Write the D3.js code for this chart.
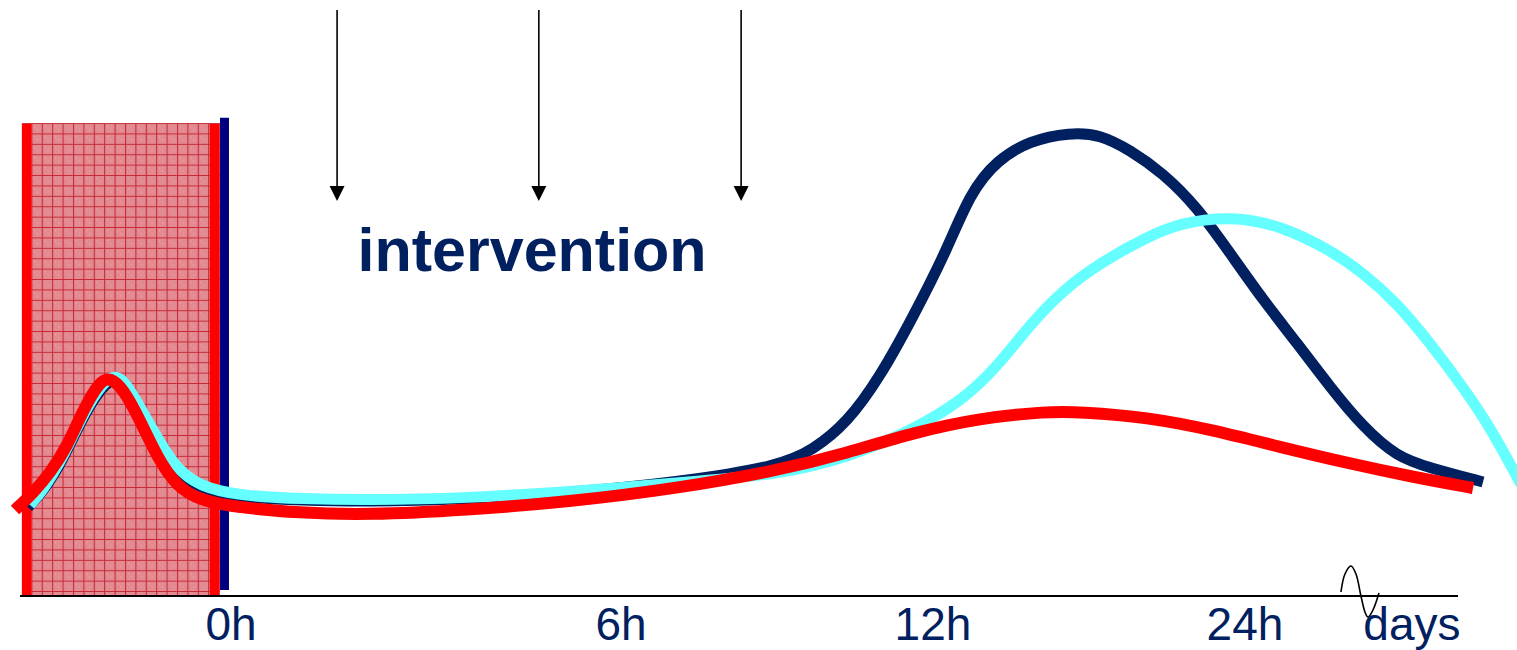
<!DOCTYPE html>
<html>
<head>
<meta charset="utf-8">
<script src="https://cdn.jsdelivr.net/npm/d3@7"></script>
<style>
  html, body { margin: 0; padding: 0; background: #fff; }
  svg { display: block; }
</style>
</head>
<body>
<svg id="chart" width="1517" height="650"></svg>
<script>
// ---------- DATA ----------
// x in "time position" units (0 = 0h), y in arbitrary response units (0 = axis)
const tickLabels = ["0h", "6h", "12h", "24h", "days"];
const tickPositions = [0, 7.5, 13.5, 19.5, 22.71];
const tickBaselineOffsets = [44, 44, 44, 44, 44];

const interventionTimes = [2.04, 5.92, 9.81];
const interventionLabel = "intervention";

const shadedStart = -4.02;
const shadedEnd = -0.21;
const redMarkers = [-3.93, -0.317];
const navyMarker = -0.125;
const axisBreakAt = 21.73;

const navySeries = [
  [-3.904, 18.82], [-3.615, 22.20], [-3.288, 27.70], [-2.962, 35.31], [-2.654, 41.65],
  [-2.327, 46.2], [-2.077, 45.6], [-1.75, 39.32], [-1.404, 31.71], [-1.019, 25.37],
  [-0.5, 22.41], [0.365, 20.72], [1.327, 20.30], [2.615, 19.96], [4.538, 20.51],
  [6.462, 21.78], [8.635, 24.15], [10.558, 27.54], [11.192, 30.93], [11.846, 36.65],
  [12.481, 46.40], [13.115, 59.11], [13.769, 73.31], [14.212, 85.38], [14.731, 92.37],
  [15.365, 96.5], [16.135, 98.2], [16.712, 97.8], [17.288, 94.49], [17.923, 89.62],
  [18.577, 82.42], [19.212, 72.67], [19.846, 62.71], [20.5, 53.60], [21.135, 44.28],
  [21.769, 35.81], [22.423, 29.45], [23.058, 27.12], [24.077, 24.15]
];

const cyanSeries = [
  [-3.865, 19.28], [-3.615, 22.46], [-3.288, 28.18], [-2.962, 35.81], [-2.654, 42.16],
  [-2.327, 46.8], [-2.077, 46.2], [-1.75, 40.04], [-1.365, 32.42], [-0.981, 26.06],
  [-0.462, 22.6], [0.365, 21.1], [1.327, 20.6], [2.615, 20.3], [4.538, 20.76],
  [6.462, 22.03], [9.02, 24.36], [10.558, 25.85], [11.846, 29.24], [13.115, 35.17],
  [14.077, 41.53], [14.731, 48.52], [15.365, 57.5], [16.0, 64.83], [16.712, 70.55],
  [17.615, 76.06], [18.25, 79.03], [19.212, 80.5], [20.173, 78.6], [21.135, 73.31],
  [21.769, 68.5], [22.423, 62.08], [23.058, 53.60], [23.692, 44.28], [24.212, 35.81],
  [24.731, 25.21], [24.98, 20.34]
];

const redSeries = [
  [-4.154, 18.22], [-3.808, 21.82], [-3.481, 26.06], [-3.154, 31.57], [-2.846, 39.41],
  [-2.519, 45.6], [-2.327, 46.3], [-2.077, 44.0], [-1.75, 37.29], [-1.423, 29.45],
  [-1.038, 23.09], [-0.596, 20.34], [0.038, 18.86], [1.327, 17.58], [2.615, 17.16],
  [4.538, 18.22], [6.462, 19.92], [8.635, 22.88], [10.558, 26.69], [11.846, 30.30],
  [13.115, 34.6], [14.404, 37.71], [15.692, 39.1], [16.327, 39.0], [17.615, 37.9],
  [18.885, 35.17], [20.173, 31.57], [21.462, 28.18], [22.731, 25.21], [23.885, 22.88]
];

// ---------- SCALES ----------
const svg = d3.select("#chart");
const x = d3.scaleLinear().domain([-4.4423, 24.7308]).range([0, 1517]);
const y = d3.scaleLinear().domain([0, 100]).range([596, 124]);

const textColor = "#002060";

// ---------- SHADED BOX ----------
const defs = svg.append("defs");
const pat = defs.append("pattern")
  .attr("id", "grid").attr("patternUnits", "userSpaceOnUse")
  .attr("x", x(shadedStart) - 1).attr("y", y(100.2))
  .attr("width", 10.4).attr("height", 10.4);
pat.append("rect").attr("width", 10.4).attr("height", 10.4).attr("fill", "#E38990");
pat.append("rect").attr("x", 3).attr("y", 3).attr("width", 1).attr("height", 1).attr("fill", "#F0B0B4");
pat.append("rect").attr("x", 6).attr("y", 6).attr("width", 1).attr("height", 1).attr("fill", "#F0B0B4");
pat.append("path").attr("d", "M0,0.5H10.4M0.5,0V10.4")
  .attr("stroke", "#C62838").attr("stroke-width", 1.1).attr("fill", "none");

svg.append("rect")
  .attr("x", x(shadedStart)).attr("y", y(100.2))
  .attr("width", x(shadedEnd) - x(shadedStart))
  .attr("height", y(0) - y(100.2))
  .attr("fill", "url(#grid)");

svg.selectAll(".redmark").data(redMarkers).enter().append("line")
  .attr("x1", d => x(d)).attr("x2", d => x(d))
  .attr("y1", y(100)).attr("y2", y(0))
  .attr("stroke", "#FF0000").attr("stroke-width", 9.5);

svg.append("line")
  .attr("x1", x(navyMarker)).attr("x2", x(navyMarker))
  .attr("y1", y(101.3)).attr("y2", y(1.27))
  .attr("stroke", "#000080").attr("stroke-width", 9);

// ---------- AXIS ----------
svg.append("line")
  .attr("x1", 20).attr("x2", 1458)
  .attr("y1", y(0)).attr("y2", y(0))
  .attr("stroke", "#000").attr("stroke-width", 2);

// axis break squiggle (pixel offsets around the break position)
const breakShape = [[-20, -4], [-16, -22], [-10, -30], [-5, -22], [0, 0], [4, 16], [7, 21], [12, 14], [18, -3]];
svg.append("path")
  .attr("d", d3.line().curve(d3.curveCatmullRom)
    .x(d => x(axisBreakAt) + d[0]).y(d => y(0) + d[1])(breakShape))
  .attr("fill", "none").attr("stroke", "#000").attr("stroke-width", 1.6);

svg.selectAll(".tick").data(tickLabels).enter().append("text")
  .attr("x", (d, i) => x(tickPositions[i]))
  .attr("y", (d, i) => y(0) + tickBaselineOffsets[i])
  .attr("text-anchor", "middle")
  .attr("font-family", "Liberation Sans, Arial, sans-serif")
  .attr("font-size", 46)
  .attr("fill", textColor)
  .text(d => d);

// ---------- INTERVENTION ARROWS ----------
const arrowTop = 10, arrowTip = 201;
interventionTimes.forEach(t => {
  const cx = x(t);
  svg.append("line")
    .attr("x1", cx).attr("x2", cx).attr("y1", arrowTop).attr("y2", arrowTip - 10)
    .attr("stroke", "#000").attr("stroke-width", 1.6);
  svg.append("path")
    .attr("d", `M${cx - 7.5},${arrowTip - 15}L${cx + 7.5},${arrowTip - 15}L${cx},${arrowTip}Z`)
    .attr("fill", "#000");
});

svg.append("text")
  .attr("x", (x(interventionTimes[0]) + x(interventionTimes[2])) / 2 - 7)
  .attr("y", 271)
  .attr("text-anchor", "middle")
  .attr("font-family", "Liberation Sans, Arial, sans-serif")
  .attr("font-weight", "bold")
  .attr("font-size", 61)
  .attr("fill", textColor)
  .text(interventionLabel);

// ---------- CURVES ----------
const line = d3.line().curve(d3.curveBasis)
  .x(d => x(d[0])).y(d => y(d[1]));

const series = [
  { data: navySeries, color: "#002060", width: 11 },
  { data: cyanSeries, color: "#66FFFF", width: 11 },
  { data: redSeries, color: "#FF0000", width: 12 }
];
svg.selectAll(".curve").data(series).enter().append("path")
  .attr("d", d => line(d.data))
  .attr("fill", "none")
  .attr("stroke", d => d.color)
  .attr("stroke-width", d => d.width)
  .attr("stroke-linecap", "butt")
  .attr("stroke-linejoin", "round");
</script>
</body>
</html>
